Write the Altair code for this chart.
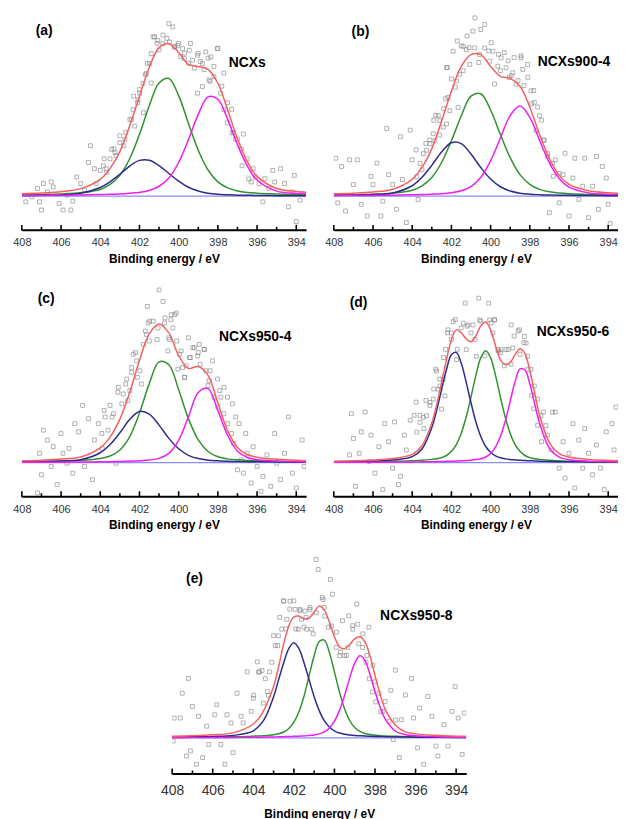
import altair as alt
import pandas as pd

# ---------------- data ----------------
# energy grids (eV) on which the fitted curves were read
GRID = [408, 407, 406, 405, 404, 403.5, 403, 402.5, 402, 401.5, 401, 400.5, 400,
        399.5, 399, 398.5, 398, 397.5, 397, 396.5, 396, 395, 394, 393.5]
GRID_FINE = [408, 407, 406, 405, 404, 403.5, 403, 402.75, 402.5, 402.25, 402, 401.75,
             401.5, 401.25, 401, 400.75, 400.5, 400.25, 400, 399.75, 399.5, 399.25, 399,
             398.75, 398.5, 398.25, 398, 397.75, 397.5, 397, 396.5, 396, 395, 394, 393.5]

TICK_LABELS = [408, 406, 404, 402, 400, 398, 396, 394]
MINOR_TICKS = [407, 405, 403, 401, 399, 397, 395]

# (a) NCXs
green_a = [1.3, 1.7, 2.3, 3.5, 6.8, 11.8, 21, 37.8, 62.4, 91.2, 114.2, 118.8, 101.5, 73.4, 46.4, 26.4, 14.4, 8.4, 5.3, 3.7, 3.0, 2.2, 1.6, 1.4]
blue_a = [0.6, 0.9, 1.3, 2.9, 8.7, 14.5, 22.1, 30.4, 36.1, 36.3, 30.9, 22.9, 15.2, 9.0, 5.2, 3.0, 1.9, 1.4, 1.0, 0.9, 0.7, 0.5, 0.4, 0.35]
magenta_a = [0.6, 0.7, 0.9, 1.2, 1.6, 1.9, 2.2, 2.9, 3.8, 5.7, 10, 18.4, 34, 57, 82.6, 100.2, 97.9, 77.5, 52, 30.6, 16.3, 5.1, 2.8, 2.2]
red_a = [2.5, 3.3, 4.5, 7.6, 17, 28, 45, 71, 101, 130, 150, 154, 145, 133, 131, 128, 114, 87, 58, 35, 20, 7.8, 4.8, 4.0]
pts_a_x = [407.8, 407.5, 407.2, 407.1, 407.0, 406.9, 406.7, 406.5, 406.4, 406.1, 405.9, 405.7, 405.5, 405.4, 405.2, 405.0, 404.8, 404.6, 404.5, 404.3, 404.2, 404.0, 403.8, 403.7, 403.5, 403.3, 403.2, 403.0, 402.8, 402.7, 402.4, 402.3, 402.1, 402.0, 401.8, 401.7, 401.6, 401.4, 401.3, 401.1, 401.0, 400.8, 400.6, 400.5, 400.3, 400.2, 400.0, 399.9, 399.7, 399.5, 399.4, 399.2, 399.0, 398.9, 398.7, 398.5, 398.4, 398.2, 398.0, 397.8, 397.7, 397.5, 397.3, 397.2, 397.0, 396.8, 396.7, 396.5, 396.3, 396.2, 396.1, 395.9, 395.7, 395.6, 395.4, 395.2, 395.1, 394.8, 394.6, 394.4, 394.2, 394.1, 394.0, 393.8, 393.7]
pts_a_y = [-5.7, -0.7, 7.7, -5.7, -14, 12.7, 4.3, 14.3, 9.3, -7.3, -14, 1, -14, -5, 19.3, 12.7, 6, 34, 51, 27.7, 12.7, 26, 37.7, 27.7, 37.7, 47.7, 41, 61, 51, 64.3, 77.7, 101, 94.3, 107.7, 84.3, 122.7, 134.3, 114.3, 161, 154.3, 147.7, 162.7, 159.3, 174.3, 171, 151, 154.3, 141, 144.3, 134.3, 154.3, 129.3, 144.3, 136, 127.7, 139.3, 116, 131, 149.3, 111, 124.3, 94.3, 87.7, 64.3, 57.7, 47.7, 62.7, 37.7, 14.3, 27.7, 19.3, 12.7, -5.7, 17.7, 7.7, 26, 14.3, 27.7, 12.7, -10.7, 4.3, 21, -25.7, -4, 2.7]
pts_a_x2 = [401.23, 401.06, 400.81, 400.47, 400.22, 400.05, 399.8, 399.71, 399.46, 399.29, 399.04, 398.79, 398.62, 398.36, 398.2, 398.03, 397.86, 399.04, 398.79, 398.45, 397.69, 397.52, 397.27, 397.1, 396.77, 396.43, 403.84, 403.67, 403.42, 403.25, 403.0, 402.74, 402.49, 402.33, 402.24, 402.07, 401.99, 401.82, 401.65, 401.48, 401.4]
pts_a_y2 = [160.7, 157.3, 154, 155.7, 150.7, 152.3, 149, 139, 147.3, 137.3, 142.3, 134, 145.7, 140.7, 120.7, 149, 104, 104, 110.7, 117.3, 87.3, 74, 64, 57.3, 30.7, 17.3, 30.7, 24, 47.3, 44, 54, 57.3, 77.3, 87.3, 70.7, 97.3, 104, 114, 124, 134, 144]

# (b) NCXs900-4
green_b = [1.2, 1.5, 2.0, 3.0, 6.0, 10.5, 18.9, 34, 55.9, 81, 101, 103.4, 87, 62.2, 38.9, 21.7, 11.9, 6.8, 4.4, 3.2, 2.5, 1.8, 1.4, 1.2]
blue_b = [0.8, 1.0, 1.6, 3.2, 10.5, 19, 31.1, 44.6, 53.9, 53.1, 42.5, 28.9, 17.3, 9.5, 5.2, 3.0, 2.0, 1.5, 1.2, 1.0, 0.9, 0.7, 0.5, 0.45]
magenta_b = [0.5, 0.6, 0.7, 1.0, 1.4, 1.6, 2.0, 2.5, 3.5, 5.4, 9.7, 19.1, 35.7, 58.7, 81.4, 91, 79.6, 56.2, 33.7, 17.9, 9.1, 3.3, 1.9, 1.6]
red_b = [2.5, 3.0, 4.2, 7.0, 17, 29, 48, 76, 106, 131, 143, 143, 131, 121, 119, 111, 90, 62, 38, 21, 12, 5.5, 3.5, 3.0]
pts_b_x = [407.9, 407.8, 407.6, 407.4, 407.2, 407.0, 406.8, 406.6, 406.5, 406.3, 406.1, 406.0, 405.8, 405.6, 405.5, 405.3, 405.2, 405.0, 404.8, 404.6, 404.5, 404.3, 404.1, 404.0, 403.8, 403.7, 403.5, 403.3, 403.1, 402.9, 402.8, 402.6, 402.4, 402.3, 402.2, 402.0, 401.8, 401.7, 401.5, 401.4, 401.2, 401.1, 400.9, 400.8, 400.6, 400.5, 400.3, 400.1, 399.97, 399.8, 399.6, 399.5, 399.3, 399.1, 398.95, 398.8, 398.6, 398.45, 398.3, 398.1, 397.9, 397.8, 397.6, 397.4, 397.3, 397.1, 397.0, 396.8, 396.7, 396.5, 396.3, 396.2, 396.0, 395.8, 395.7, 395.5, 395.3, 395.2, 395.0, 394.8, 394.6, 394.5, 394.3, 394.1, 394.0, 393.9]
pts_b_y = [38.3, -6.7, 30, -15, 36.7, 11.7, 36.7, -8.3, 1.7, -20, 20, 11.7, 33.3, -20, -5, 68.3, 21.7, 11.7, -13.3, 60, 16.7, -26.7, 66.7, 36.7, 46.7, -3.3, 26.7, 53.3, 56.7, 76.7, 81.7, 61.7, 88.3, 98.3, 130, 118.3, 110, 156.7, 151.7, 126.7, 161.7, 150, 166.7, 180, 135, 168.3, 173.3, 146.7, 155, 113.3, 143.3, 126.7, 145, 136.7, 121.7, 140, 116.7, 141.7, 111.7, 120, 93.3, 106.7, 90, 76.7, 56.7, 40, -16.7, 20, 36.7, -6.7, 21.7, 43.3, -20, 18.3, 38.3, -3.3, 10, 38.3, -21.7, 10, 40, -13.3, 30, 18.3, -8.3, -27.7]
pts_b_x2 = [401.91, 401.4, 401.24, 400.81, 400.56, 400.3, 400.05, 399.88, 399.63, 399.46, 399.21, 399.04, 398.87, 398.7, 398.45, 398.36, 398.11, 397.94, 397.77, 397.68, 397.51, 397.26, 397.09, 396.84, 396.5, 402.25, 402.17, 402.08, 402.25, 402.42, 402.59, 402.67, 402.84, 402.93, 403.09, 403.27, 403.43, 403.6, 403.77, 401.74, 401.57, 401.06, 401.66]
pts_b_y2 = [146.3, 151.3, 148, 149.7, 143, 149.7, 136.3, 146.3, 131.3, 139.7, 129.7, 119.7, 124.7, 113, 139.7, 128, 133, 106.3, 94.7, 66.3, 81.3, 56.3, 43, 33, 23, 129.7, 99.7, 86.3, 73, 69.7, 76.3, 81.3, 56.3, 63, 53, 46.3, 43, 33, 19.7, 116.3, 123, 133, 89.7]

# (c) NCXs950-4
green_c = [0.8, 1.1, 1.6, 2.2, 4.1, 6.6, 12.7, 26, 50, 79.7, 101.6, 98.8, 73.4, 44.3, 22.9, 11.1, 5.8, 3.7, 2.7, 2.1, 1.8, 1.2, 0.9, 0.8]
blue_c = [0.7, 1.0, 1.5, 2.9, 9.9, 18.2, 30, 43.4, 51.5, 48.9, 37.8, 24.4, 13.9, 7.3, 4.0, 2.4, 1.7, 1.3, 1.0, 0.9, 0.8, 0.6, 0.4, 0.35]
magenta_c = [0.2, 0.3, 0.4, 0.5, 0.8, 0.9, 1.1, 1.4, 1.8, 2.5, 4.2, 9.2, 22.3, 46.2, 70.8, 74.6, 52.4, 27.3, 11.6, 5.1, 2.8, 1.5, 0.9, 0.75]
red_c = [1.7, 2.4, 3.5, 5.6, 14.8, 25.7, 43.8, 70.8, 103, 130, 140, 131, 108, 95, 97, 88, 60, 32, 15.3, 8.1, 5.4, 3.3, 2.2, 1.9]
pts_c_x = [407.2, 407.1, 407.0, 406.9, 406.7, 406.5, 406.4, 406.2, 406.0, 405.9, 405.7, 405.6, 405.4, 405.3, 405.1, 404.9, 404.8, 404.6, 404.4, 404.3, 404.1, 403.9, 403.8, 403.6, 403.4, 403.2, 403.1, 402.9, 402.7, 402.6, 402.4, 402.2, 402.1, 401.9, 401.7, 401.6, 401.5, 401.3, 401.1, 401.0, 400.8, 400.7, 400.5, 400.4, 400.2, 400.1, 399.96, 399.8, 399.7, 399.5, 399.4, 399.2, 399.0, 398.9, 398.7, 398.5, 398.4, 398.2, 398.0, 397.9, 397.7, 397.5, 397.3, 397.2, 397.0, 396.8, 396.7, 396.5, 396.3, 396.2, 396.0, 395.8, 395.7, 395.5, 395.3, 395.1, 395.0, 394.8, 394.6, 394.4, 394.2, 394.0, 393.7, 393.6]
pts_c_y = [-30.7, 9.3, -12.3, 32.7, 22.7, -4, 16, -22.3, 29.3, 9.3, -0.7, 14.3, -10.7, 39.3, 31, 57.7, -4, 44.3, -17.3, 22.7, 39.3, 14.3, 52.7, 32.7, 46, -0.7, 71, 59.3, 79.3, 62.7, 96, 111, 86, 79.3, 132.7, 157.7, 122.7, 142.7, 124.3, 174.3, 162.7, 146, 126, 144.3, 149.3, 122.7, 109.3, 96, 86, 126, 106, 116, 111, 99.3, 114.3, 77.7, 92.7, 66, 56, 72.7, 49.3, 39.3, 29.3, 19.3, -7.3, 2.7, -10.7, 9.3, -20.7, 16, -4, -29, -14, 7.7, -24, 29.3, -0.7, -17.3, 9.3, 46, -10.7, -25.7, 22.7, -4]
pts_c_x2 = [401.56, 401.48, 401.05, 400.72, 400.38, 400.12, 400.3, 400.46, 400.55, 400.04, 399.87, 399.7, 399.62, 399.45, 399.28, 399.03, 398.95, 398.69, 398.61, 398.44, 398.27, 398.02, 397.85, 397.68, 397.51, 397.26, 397.09, 396.92, 396.58, 403.92, 403.75, 403.5, 403.33, 403.08, 402.83, 402.65, 402.49, 402.4, 402.32, 402.15, 401.98, 401.81, 401.64]
pts_c_y2 = [141, 142.7, 136, 141, 149.3, 151, 136, 124.3, 112.7, 94.3, 112.7, 86, 97.7, 106, 116, 107.7, 119.3, 114.3, 92.7, 82.7, 102.7, 84.3, 66, 76, 66, 59.3, 46, 39.3, 29.3, 29.3, 46, 57.7, 49.3, 76, 69.3, 84.3, 72.7, 91, 109.3, 102.7, 92.7, 119.3, 129.3]

# (d) NCXs950-6
blue_d = [0.7, 1.0, 1.5, 2.5, 5.9, 13.7, 35.3, 52.9, 73.8, 94, 108.8, 111.2, 100.5, 81.4, 60.4, 40.9, 26.3, 16.2, 10.4, 6.8, 4.8, 3.7, 3.0, 2.6, 2.2, 2.0, 1.8, 1.6, 1.4, 1.1, 0.9, 0.8, 0.6, 0.5, 0.45]
green_d = [0.5, 0.6, 0.8, 1.1, 1.8, 2.3, 3.2, 3.8, 5.0, 7.1, 11.3, 18.2, 29.4, 45.7, 66.1, 88, 105.9, 113, 105.9, 88, 66.1, 45.7, 29.4, 18.2, 11.3, 7.1, 5.0, 3.8, 3.2, 2.3, 1.8, 1.4, 0.9, 0.7, 0.6]
magenta_d = [0.2, 0.2, 0.3, 0.4, 0.6, 0.7, 0.8, 1.0, 1.0, 1.2, 1.3, 1.5, 1.8, 2.0, 2.4, 3.0, 3.8, 5.6, 9.1, 15.5, 26.2, 42, 61.9, 81.8, 94.6, 93.5, 79.6, 59.3, 39.8, 14.4, 5.4, 2.9, 1.4, 0.9, 0.7]
red_d = [1.4, 1.8, 2.6, 4.0, 8.3, 17, 40, 58, 81, 104, 124, 134, 131, 125, 122, 128, 138, 142, 134, 118, 104, 99, 101, 109, 115, 110, 93, 70, 48, 20, 9, 5.5, 3.0, 2.1, 1.8]
pts_d_x = [407.2, 407.1, 407.0, 406.9, 406.7, 406.6, 406.4, 406.2, 406.1, 405.9, 405.7, 405.5, 405.4, 405.2, 405.0, 404.9, 404.7, 404.6, 404.4, 404.3, 404.1, 403.9, 403.8, 403.6, 403.4, 403.3, 403.1, 402.9, 402.8, 402.6, 402.4, 402.3, 402.2, 402.0, 401.8, 401.7, 401.5, 401.3, 401.2, 401.0, 400.8, 400.6, 400.5, 400.3, 400.1, 399.97, 399.8, 399.6, 399.5, 399.3, 399.1, 398.95, 398.8, 398.6, 398.5, 398.3, 398.1, 397.9, 397.8, 397.6, 397.4, 397.3, 397.1, 396.9, 396.7, 396.5, 396.3, 396.2, 396.0, 395.8, 395.7, 395.5, 395.3, 395.2, 395.0, 394.8, 394.6, 394.4, 394.2, 394.1, 393.8, 393.7, 393.6]
pts_d_y = [7.7, 49.3, 24.3, -24, 9.3, 31, 51, 1, 27.7, -10.7, 16, -27.3, 39.3, 21, -5.7, 41, -22.3, -14, 27.7, 12.7, 42.7, 47.7, 61, 47.7, 34.3, 62.7, 57.7, 74.3, 94.3, 84.3, 106, 114.3, 131, 124.3, 144.3, 114.3, 136, 161, 137.7, 131, 124.3, 166, 142.7, 107.7, 161, 141, 144.3, 112.7, 111, 97.7, 114.3, 99.3, 127.7, 132.7, 109.3, 121, 94.3, 67.7, 54.3, 37.7, 21, 51, 27.7, 12.7, 51, -5.7, 21, -15.7, 9.3, 39.3, -25.7, 22.7, -5.7, 34.3, 9.3, -12.3, 17.7, -5.7, -27.3, 31, 39.3, 12.7, 56]
pts_d_x2 = [402.17, 401.91, 401.4, 401.24, 401.15, 400.9, 400.73, 400.56, 400.05, 399.8, 399.88, 399.63, 399.46, 399.21, 398.95, 398.87, 398.53, 398.27, 398.19, 398.11, 397.94, 397.77, 397.6, 397.43, 397.18, 396.84, 402.76, 402.59, 402.42, 402.33, 402.5, 402.67, 402.93, 403.09, 403.27, 403.43, 403.6, 403.77, 402.0, 401.74]
pts_d_y2 = [134, 142.3, 140.7, 114, 139, 139, 107.3, 144, 144, 144, 130.7, 114, 114, 114, 139, 115.7, 134, 127.3, 120.7, 107.3, 94, 77.3, 64, 47.3, 37.3, 50.7, 92.3, 77.3, 84, 67.3, 54, 74, 64, 60.7, 47.3, 45.7, 40.7, 30.7, 130.7, 104]

# (e) NCXs950-8
blue_e = [0.7, 1.0, 1.4, 2.4, 7.1, 17.3, 41.5, 58.8, 75.9, 90.2, 96, 90.2, 75.9, 58.8, 41.5, 27.5, 17.3, 11.0, 7.1, 4.8, 3.6, 2.9, 2.4, 2.1, 1.8, 1.6, 1.4, 1.3, 1.2, 1.0, 0.8, 0.7, 0.5, 0.4, 0.35]
green_e = [0.4, 0.5, 0.7, 1.0, 1.7, 2.2, 3.1, 4.1, 5.9, 9.5, 15.8, 26.4, 42, 62.5, 82.9, 97.2, 98.7, 86.3, 66.6, 46.2, 29.3, 17.5, 10.4, 6.5, 4.4, 3.3, 2.7, 2.2, 1.9, 1.5, 1.2, 0.9, 0.7, 0.5, 0.45]
magenta_e = [0.2, 0.2, 0.3, 0.4, 0.6, 0.7, 0.9, 1.0, 1.1, 1.3, 1.5, 1.7, 1.9, 2.4, 2.9, 4.0, 6.1, 10, 16.8, 27.7, 42.8, 60.3, 75.5, 83, 78.2, 64.1, 46.9, 31.1, 19.1, 6.9, 3.2, 2.1, 1.2, 0.7, 0.6]
red_e = [1.5, 2, 3, 5, 14, 27, 52, 72, 95, 113, 122, 123, 120, 121, 127, 133, 129, 117, 102, 92, 90, 94, 100, 102, 97, 83, 63, 44, 29, 13, 6, 4, 2.5, 1.7, 1.5]
pts_e_x = [407.95, 407.9, 407.6, 407.5, 407.3, 407.2, 407.1, 407.0, 406.8, 406.7, 406.5, 406.3, 406.2, 405.9, 405.8, 405.6, 405.4, 405.3, 405.1, 405.0, 404.8, 404.6, 404.5, 404.3, 404.1, 404.0, 403.8, 403.7, 403.5, 403.3, 403.2, 403.0, 402.8, 402.7, 402.5, 402.4, 402.2, 402.0, 401.9, 401.7, 401.5, 401.4, 401.2, 401.05, 400.9, 400.8, 400.6, 400.5, 400.3, 400.2, 400.1, 399.9, 399.7, 399.6, 399.4, 399.3, 399.1, 398.9, 398.8, 398.6, 398.4, 398.3, 398.1, 398.0, 397.8, 397.6, 397.5, 397.3, 397.1, 397.0, 396.8, 396.7, 396.5, 396.2, 396.1, 395.9, 395.8, 395.6, 395.4, 395.2, 395.0, 394.9, 394.6, 394.4, 394.2, 394.05, 393.9, 393.7, 393.6]
pts_e_y = [-3.3, 20, 20, 45, -18.3, 60, -13.3, 31.7, -26.7, 21.7, -20, 11.7, -6.7, 23.3, 33.3, -6.7, -26.7, 23.3, 15, -15, 45, 21.7, 15, 66.7, 26.7, 40, 76.7, 66.7, 35, 46.7, 66.7, 103.3, 93.3, 121.7, 138.3, 110, 130, 138.3, 110, 128.3, 111.7, 121.7, 131.7, 105, 180, 170, 141.7, 131.7, 111.7, 160, 145, 106.7, 86.7, 118.3, 83.3, 123.3, 113.3, 135, 95, 105, 83.3, 111.7, 73.3, 56.7, 45, 26.7, 36.7, 16.7, -1.7, 68.3, -20, 18.3, 43.3, 60, 20, -10, 30, -26.7, 41.7, 21.7, -8.3, -18.3, 13.3, -8.3, 26.7, 51.7, 20, -16.7, 25]
pts_e_x2 = [402.51, 402.19, 401.94, 401.7, 401.45, 401.21, 401.37, 401.13, 400.89, 400.56, 400.48, 400.15, 399.91, 399.74, 399.5, 399.34, 399.09, 398.85, 398.61, 398.44, 398.28, 398.12, 397.96, 397.71, 397.22, 396.98, 403.98, 403.74, 403.57, 403.41, 403.25, 403.09, 402.92, 402.76, 402.6, 402.35, 401.78, 401.62]
pts_e_y2 = [138, 138, 129.7, 129.7, 128, 129.7, 109.7, 109.7, 126.3, 139.7, 123, 113, 91.3, 83, 83, 91.3, 109.7, 114.7, 91.3, 76.3, 59.7, 46.3, 36.3, 26.3, 48, 18, 43, 66.3, 68, 59.7, 43, 76.3, 93, 103, 109.7, 119.7, 109.7, 119.7]

# ---------------- styling ----------------
FONT = "Liberation Sans"
COLORS = {"baseline": "#8c8cf2", "green": "#2f922f", "blue": "#2c2c8c",
          "magenta": "#f01cf0", "red": "#f46060"}
X_DOMAIN = [408, 393.5]


def panel(grid, green, blue, magenta, red, px, py, letter, name, width, height,
          ydom, letter_pos, name_pos, label_size=11, label_pad=7, title_pad=6):
    xs = alt.Scale(domain=X_DOMAIN, nice=False, zero=False)
    ys = alt.Scale(domain=ydom, nice=False, zero=False)
    xaxis = alt.Axis(values=TICK_LABELS, format="d", title="Binding energy / eV",
                     grid=False, ticks=False, tickSize=0, labelFlush=False,
                     labelPadding=label_pad, titlePadding=title_pad,
                     labelFontSize=label_size, domainWidth=2, domainColor="black")
    X = alt.X("x:Q", scale=xs, axis=xaxis)
    Y = alt.Y("y:Q", scale=ys, axis=None)

    layers = []
    pts = pd.DataFrame({"x": px, "y": py})
    layers.append(alt.Chart(pts).mark_point(shape="square", size=15, filled=False,
                                            color="#858585", strokeWidth=0.9,
                                            clip=True).encode(x=X, y=Y))
    base = pd.DataFrame({"x": [grid[0], grid[-1]], "y": [0, 0]})
    layers.append(alt.Chart(base).mark_line(color=COLORS["baseline"], strokeWidth=1.3,
                                            clip=True).encode(x=X, y=Y))
    for key, vals in (("green", green), ("blue", blue), ("magenta", magenta), ("red", red)):
        df = pd.DataFrame({"x": grid, "y": vals})
        layers.append(alt.Chart(df).mark_line(color=COLORS[key], strokeWidth=1.5,
                                              interpolate="catmull-rom",
                                              clip=True).encode(x=X, y=Y))
    major = pd.DataFrame({"x": TICK_LABELS})
    minor = pd.DataFrame({"x": MINOR_TICKS})
    layers.append(alt.Chart(major).mark_rule(color="black", strokeWidth=1.6).encode(
        x=X, y=alt.value(height + 1), y2=alt.value(height - 5)))
    layers.append(alt.Chart(minor).mark_rule(color="black", strokeWidth=1.6).encode(
        x=X, y=alt.value(height + 1), y2=alt.value(height - 3)))
    lab = pd.DataFrame({"t": [letter]})
    layers.append(alt.Chart(lab).mark_text(align="left", baseline="middle", font=FONT,
                                           fontSize=14, fontWeight="bold", color="black").encode(
        x=alt.value(letter_pos[0]), y=alt.value(letter_pos[1]), text="t:N"))
    nm = pd.DataFrame({"t": [name]})
    layers.append(alt.Chart(nm).mark_text(align="left", baseline="middle", font=FONT,
                                          fontSize=14, fontWeight="bold", color="black").encode(
        x=alt.value(name_pos[0]), y=alt.value(name_pos[1]), text="t:N"))
    return alt.layer(*layers).properties(width=width, height=height)


W, H = 287, 220
pa = panel(GRID, green_a, blue_a, magenta_a, red_a, pts_a_x + pts_a_x2, pts_a_y + pts_a_y2,
           "(a)", "NCXs", W, H, [-34, 186], (14, 19.5), (209, 52))
pb = panel(GRID, green_b, blue_b, magenta_b, red_b, pts_b_x + pts_b_x2, pts_b_y + pts_b_y2,
           "(b)", "NCXs900-4", W, H, [-34, 186], (18, 20.5), (206, 51))
pc = panel(GRID, green_c, blue_c, magenta_c, red_c, pts_c_x + pts_c_x2, pts_c_y + pts_c_y2,
           "(c)", "NCXs950-4", W, H, [-34, 186], (16, 21), (199, 59))
pd_ = panel(GRID_FINE, green_d, blue_d, magenta_d, red_d, pts_d_x + pts_d_x2, pts_d_y + pts_d_y2,
            "(d)", "NCXs950-6", W, H, [-34, 186], (16, 25), (205, 54))
pe = panel(GRID_FINE, green_e, blue_e, magenta_e, red_e, pts_e_x + pts_e_x2, pts_e_y + pts_e_y2,
           "(e)", "NCXs950-8", 297, 223, [-36, 187], (14, 27), (210, 64),
           label_size=14, label_pad=10, title_pad=11)

top = alt.vconcat(alt.hconcat(pa, pb, spacing=18), alt.hconcat(pc, pd_, spacing=18), spacing=14)
chart = alt.vconcat(top, pe, spacing=22, center=True).properties(
    padding={"left": 4, "top": 0, "right": 0, "bottom": 0}
).configure_view(stroke=None).configure_axis(
    labelFont=FONT, titleFont=FONT, labelColor="#333333", titleColor="black",
    titleFontSize=12, titleFontWeight="bold"
)

chart.save("out.html", embed_options={"renderer": "svg", "actions": False})
